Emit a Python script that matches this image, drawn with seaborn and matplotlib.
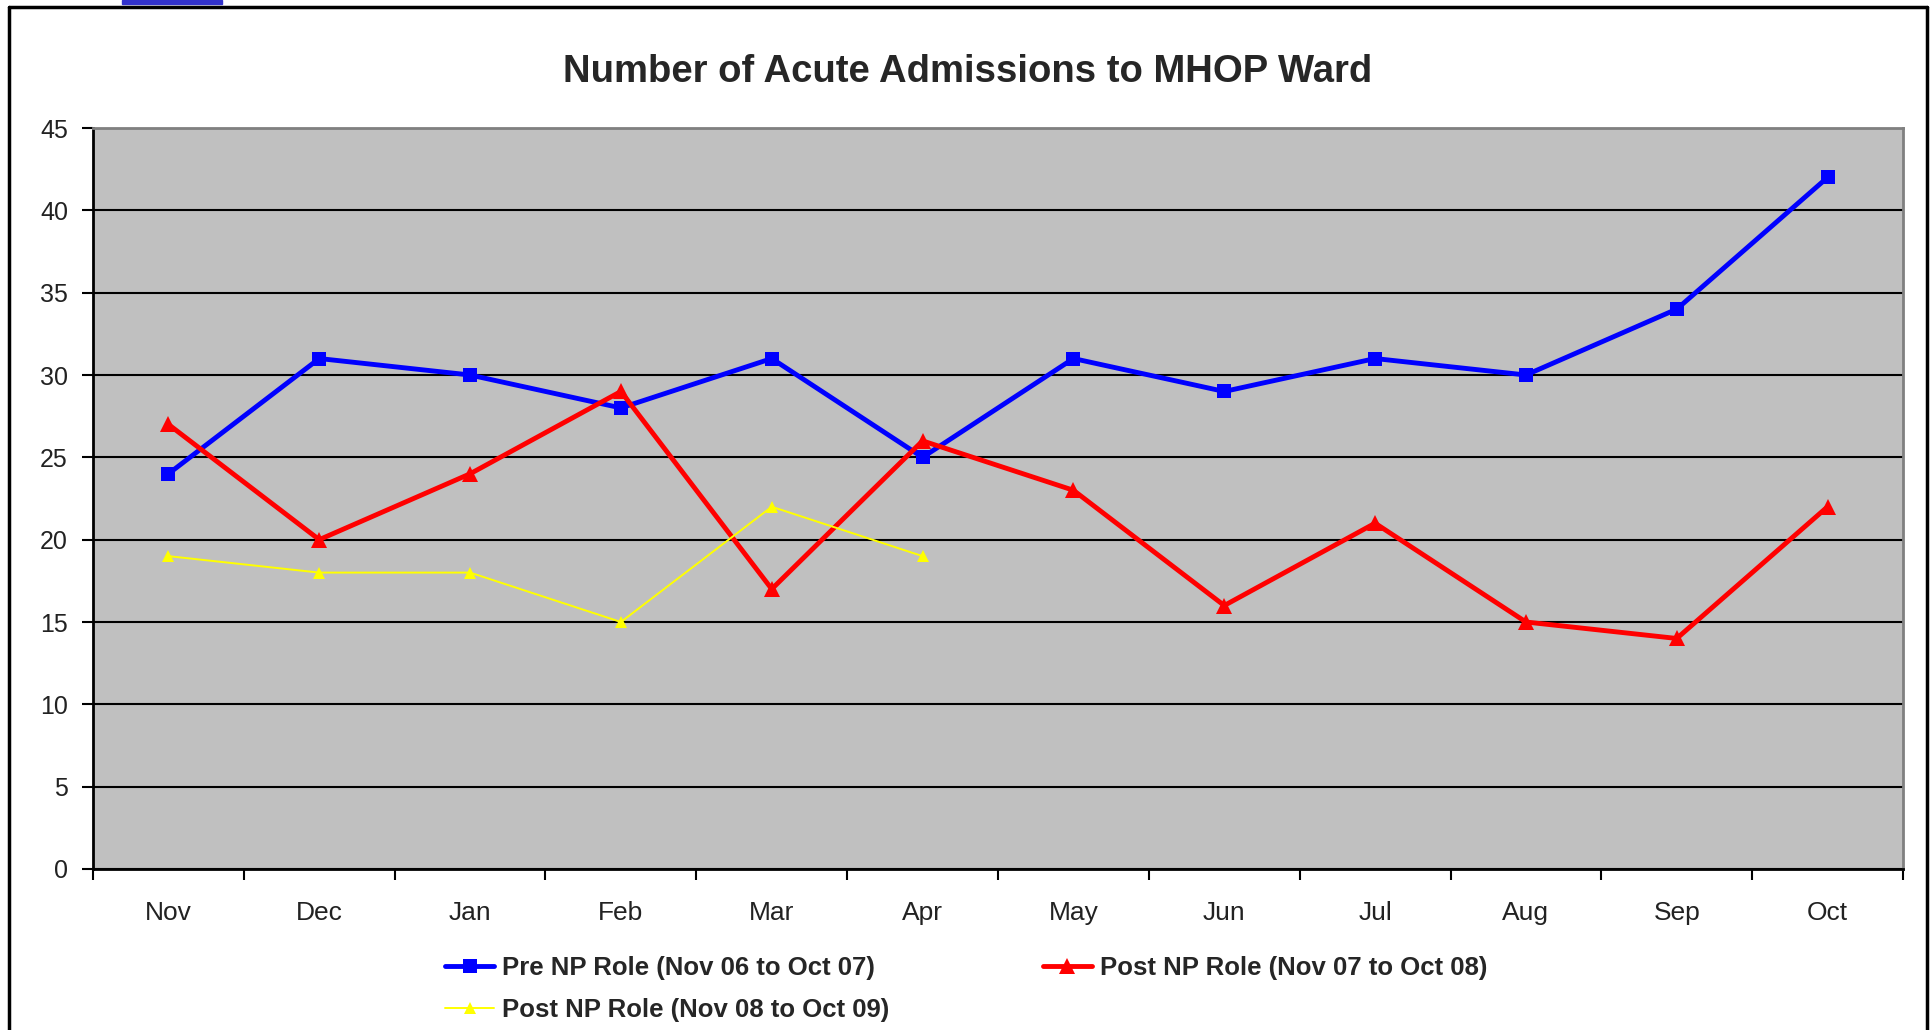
import numpy as np
import pandas as pd
import seaborn as sns
import matplotlib.pyplot as plt
from matplotlib.lines import Line2D
from matplotlib.patches import Rectangle

sns.set_style('white')
plt.rcParams['font.family'] = ['Liberation Sans', 'DejaVu Sans']

months = ['Nov', 'Dec', 'Jan', 'Feb', 'Mar', 'Apr', 'May', 'Jun', 'Jul', 'Aug', 'Sep', 'Oct']
pre_np = [24, 31, 30, 28, 31, 25, 31, 29, 31, 30, 34, 42]
post_np_0708 = [27, 20, 24, 29, 17, 26, 23, 16, 21, 15, 14, 22]
post_np_0809 = [19, 18, 18, 15, 22, 19]

labels = ['Pre NP Role (Nov 06 to Oct 07)',
          'Post NP Role (Nov 07 to Oct 08)',
          'Post NP Role (Nov 08 to Oct 09)']
colors = ['#0000FF', '#FF0000', '#FFFF00']
markers = ['s', '^', '^']
widths = [3.5, 3.5, 1.4]
msizes = [10, 12, 8]

fig = plt.figure(figsize=(19.33, 10.30), dpi=100)
ax = fig.add_axes([93/1933, 1-869/1030, (1903-93)/1933, (869-128)/1030])
ax.set_facecolor('#C0C0C0')

series = [pre_np, post_np_0708, post_np_0809]
for vals, lab, c, m, w, ms in zip(series, labels, colors, markers, widths, msizes):
    df = pd.DataFrame({'pos': range(len(vals)), 'value': vals})
    sns.lineplot(data=df, x='pos', y='value', ax=ax, color=c, marker=m, lw=w,
                 markersize=ms, markeredgewidth=0, label=lab, legend=False, zorder=3)

ax.set_xlim(-0.5, len(months) - 0.5)
ax.set_ylim(0, 45)
ax.set_yticks(range(0, 46, 5))
ax.set_xticks(range(len(months)))
ax.set_xticklabels(months)
ax.set_xticks(np.arange(-0.5, len(months), 1), minor=True)
ax.tick_params(axis='x', which='major', length=0, pad=23, labelsize=19, colors='#222222')
ax.tick_params(axis='x', which='minor', length=8, width=1.5, direction='out', bottom=True, color='black')
ax.tick_params(axis='y', length=8, width=1.5, direction='out', left=True, pad=10, labelsize=18,
               colors='#222222')
ax.tick_params(axis='y', color='black')
ax.set_xlabel('')
ax.set_ylabel('')
ax.grid(axis='y', color='black', lw=1.5, zorder=1)
ax.set_axisbelow(True)
for s in ['left', 'bottom']:
    ax.spines[s].set_color('black')
    ax.spines[s].set_linewidth(2)
for s in ['top', 'right']:
    ax.spines[s].set_color('#808080')
    ax.spines[s].set_linewidth(2)

fig.text(968/1933, 1-72/1030, 'Number of Acute Admissions to MHOP Ward',
         ha='center', va='center', fontsize=27.5, fontweight='bold')

# legend: row 1 = Pre, Post 07-08; row 2 = Post 08-09 (matplotlib fills by column)
order = [0, 2, 1]
handles = [Line2D([], [], color=colors[i], marker=markers[i], lw=widths[i],
                  markersize=msizes[i], markeredgewidth=0) for i in order]
leg = fig.legend(handles, [labels[i] for i in order], loc='upper left',
                 bbox_to_anchor=(422/1933, 1-933/1030),
                 ncol=2, frameon=False, handlelength=1.9, handletextpad=0.3,
                 columnspacing=6.0, labelspacing=0.68,
                 prop={'weight': 'bold', 'size': 18.5})

# outer chart frame
fig.add_artist(Line2D([9/1933, 9/1933], [0, 1-7/1030], color='black', lw=2.5,
                      transform=fig.transFigure))
fig.add_artist(Line2D([9/1933, 1927/1933], [1-7/1030, 1-7/1030], color='black', lw=2.5,
                      transform=fig.transFigure))
fig.add_artist(Line2D([1927/1933, 1927/1933], [0, 1-7/1030], color='black', lw=2.5,
                      transform=fig.transFigure))
# slide strip at top edge
fig.add_artist(Rectangle((122/1933, 1-4/1030), 100/1933, 4/1030, color='#3333CC',
                         transform=fig.transFigure))

fig.savefig('out.png', dpi=100)
